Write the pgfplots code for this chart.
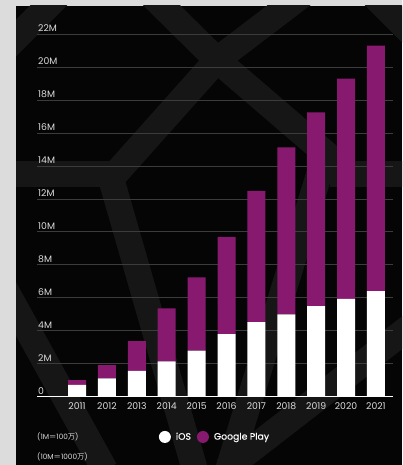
\documentclass[border=0pt]{standalone}
\usepackage{fontspec}
\setmainfont{Poppins}
\newfontfamily\medfont{Poppins}[FakeBold=0.35]
\newfontfamily\cjk{Noto Sans CJK SC}
\usepackage{pgfplots}
\usepackage{pgfplotstable}
\pgfplotsset{compat=1.18}
\definecolor{gp}{RGB}{135,26,111}
\definecolor{panel}{RGB}{5,5,5}
\definecolor{deco}{RGB}{22,22,22}
\definecolor{bord}{RGB}{220,220,220}
\definecolor{gridc}{RGB}{60,60,60}
\definecolor{lab}{RGB}{220,220,220}
\pgfplotsset{circleleg/.style={legend image code/.code={\fill[##1] (6pt,0pt) circle (6pt); \path (15pt,0pt);}}}

\pgfplotstableread{
year ios gplay
2011 0.71 0.30
2012 1.11 0.81
2013 1.56 1.81
2014 2.15 3.21
2015 2.79 4.45
2016 3.80 5.90
2017 4.53 7.95
2018 4.99 10.14
2019 5.50 11.75
2020 5.94 13.36
2021 6.40 14.90
}\datatable

\begin{document}
\begin{tikzpicture}[x=1pt,y=1pt]
\fill[bord] (0,0) rectangle (402,465);
\fill[panel] (16,0) rectangle (402,459);
\begin{scope}
\clip (16,0) rectangle (402,459);
\begin{scope}[deco, line width=26pt, line cap=butt, line join=miter]
\draw (70,481) -- (-10,401);
\draw (140,481) -- (217,405) -- (345,295);
\draw (305,472) -- (217,405) -- (110,285);
\draw (0,291) -- (118,291);
\draw (330,291) -- (420,291);
\draw (110,290) -- (195,-5);
\draw (0,185) -- (105,-5);
\draw (425,150) -- (225,-5);
\draw (322,300) -- (228,-5);
\draw (368,475) -- (415,428);
\end{scope}
\end{scope}
\begin{axis}[
  at={(37pt,68.3pt)}, anchor=south west,
  scale only axis, width=356pt, height=362.7pt,
  xmin=2009.66, xmax=2021.57, ymin=0, ymax=22,
  clip=false,
  ybar stacked, bar width=18pt,
  axis line style={draw=none},
  tick style={draw=none},
  ymajorgrids, grid style={gridc, line width=0.7pt},
  ytick={0,2,...,22},
  yticklabels={0,2M,4M,6M,8M,10M,12M,14M,16M,18M,20M,22M},
  yticklabel style={anchor=south west, inner sep=0pt, xshift=1pt, yshift=2pt, text=lab, font=\fontsize{9.3}{11}\selectfont},
  xtick=data,
  xticklabels={2011,2012,2013,2014,2015,2016,2017,2018,2019,2020,2021},
  xticklabel style={anchor=north, inner sep=0pt, yshift=-6pt, text=lab, font=\fontsize{9.3}{11}\selectfont},
  /pgf/number format/assume math mode=true,
  legend columns=2,
  legend style={at={(0.5,-0.111)}, anchor=center, draw=none, fill=none,
    nodes={text=white, font=\medfont\fontsize{9.3}{11}\selectfont},
    /tikz/every even column/.append style={column sep=4pt}},
]
\addplot[fill=white, draw=none, circleleg] table[x=year, y=ios] {\datatable};
\addplot[fill=gp, draw=none, circleleg] table[x=year, y=gplay] {\datatable};
\legend{iOS, Google Play}
\draw[white, line width=1.4pt] (rel axis cs:0,0) -- (rel axis cs:1,0);
\end{axis}
\node[anchor=west, inner sep=0pt, text=lab, font=\fontsize{7.3}{8}\selectfont] at (37,28) {(1M{\cjk ＝}100{\cjk 万})};
\node[anchor=west, inner sep=0pt, text=lab, font=\fontsize{7.3}{8}\selectfont] at (37,8) {(10M{\cjk ＝}1000{\cjk 万})};
\pgfresetboundingbox
\path[use as bounding box] (0,0) rectangle (402,465);
\end{tikzpicture}
\end{document}
